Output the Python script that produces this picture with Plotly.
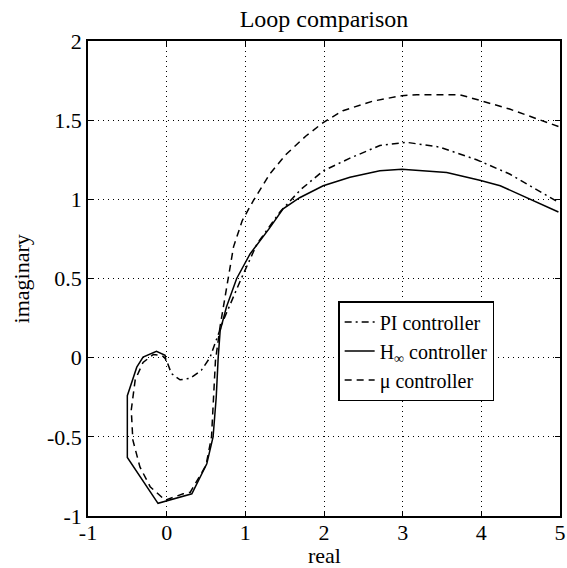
import plotly.graph_objects as go

# PI controller (dash-dot)
pi_re = [4.95, 4.36, 3.94, 3.47, 3.05, 2.71, 2.33, 1.99, 1.70, 1.44, 1.15, 0.94, 0.72, 0.63, 0.55, 0.44, 0.30, 0.17, 0.06, 0.0]
pi_im = [0.99, 1.16, 1.25, 1.33, 1.36, 1.34, 1.26, 1.18, 1.06, 0.92, 0.72, 0.49, 0.235, 0.11, 0.0, -0.08, -0.13, -0.14, -0.10, -0.02]

# H-infinity controller (solid)
hinf_re = [4.98, 4.57, 4.24, 3.98, 3.56, 2.99, 2.71, 2.33, 1.99, 1.69, 1.48, 1.31, 1.06, 0.89, 0.76, 0.68, 0.655, 0.63, 0.59, 0.51, 0.32, -0.11, -0.32, -0.50, -0.50, -0.38, -0.30, -0.13, -0.02, -0.01]
hinf_im = [0.92, 1.01, 1.086, 1.12, 1.17, 1.19, 1.18, 1.14, 1.086, 1.01, 0.94, 0.82, 0.655, 0.50, 0.32, 0.17, 0.0, -0.25, -0.50, -0.67, -0.86, -0.92, -0.76, -0.63, -0.24, -0.06, 0.004, 0.04, 0.015, -0.02]

# mu controller (dashed)
mu_re = [4.98, 4.70, 4.36, 3.98, 3.73, 3.18, 2.99, 2.62, 2.24, 1.99, 1.77, 1.52, 1.31, 1.10, 0.96, 0.85, 0.76, 0.68, 0.62, 0.60, 0.57, 0.50, 0.30, 0.21, -0.02, -0.21, -0.34, -0.43, -0.45, -0.40, -0.30, -0.17, -0.06, -0.01]
mu_im = [1.46, 1.51, 1.57, 1.625, 1.66, 1.66, 1.655, 1.62, 1.56, 1.485, 1.40, 1.285, 1.16, 0.99, 0.865, 0.70, 0.42, 0.20, -0.02, -0.25, -0.50, -0.68, -0.85, -0.86, -0.90, -0.815, -0.69, -0.52, -0.33, -0.14, -0.03, 0.02, 0.015, -0.01]

x_ticks = [-1, 0, 1, 2, 3, 4, 5]
x_labels = ["-1", "0", "1", "2", "3", "4", "5"]
y_ticks = [-1, -0.5, 0, 0.5, 1, 1.5, 2]
y_labels = ["-1", "-0.5", "0", "0.5", "1", "1.5", "2"]

FONT = "Liberation Serif, Times New Roman, serif"
FS = 22

fig = go.Figure()
fig.add_trace(go.Scatter(x=pi_re, y=pi_im, mode="lines", name="PI controller",
                         line=dict(color="black", width=1.5, dash="7px,4px,2px,4px")))
fig.add_trace(go.Scatter(x=hinf_re, y=hinf_im, mode="lines", name="H<sub>∞</sub> controller",
                         line=dict(color="black", width=1.5)))
fig.add_trace(go.Scatter(x=mu_re, y=mu_im, mode="lines", name="μ controller",
                         line=dict(color="black", width=1.5, dash="7px,5px")))

axis_common = dict(showline=True, linecolor="black", linewidth=1.5, mirror="ticks",
                   ticks="inside", ticklen=5, tickcolor="black", automargin=False,
                   ticklabeloverflow="allow",
                   showgrid=True, gridcolor="black", gridwidth=1, griddash="1px,4px",
                   zeroline=False, tickfont=dict(family=FONT, size=FS, color="black"))

fig.update_xaxes(range=[-1, 5], tickvals=x_ticks, ticktext=x_labels,
                 ticklabelstandoff=-4, **axis_common)
fig.update_yaxes(range=[-1, 2], tickvals=y_ticks, ticktext=y_labels, **axis_common)

fig.update_layout(
    width=567, height=568,
    margin=dict(l=88, r=7, t=41, b=52, autoexpand=False),
    paper_bgcolor="white", plot_bgcolor="white",
    title=dict(text="Loop comparison", x=0.5, xref="paper", y=0.967, yref="container",
               xanchor="center", yanchor="middle",
               font=dict(family=FONT, size=24, color="black")),
    showlegend=True,
    legend=dict(x=0.53, y=0.4526, xanchor="left", yanchor="top",
                bgcolor="white", bordercolor="black", borderwidth=1.5,
                font=dict(family=FONT, size=20, color="black"),
                itemwidth=30, tracegroupgap=0),
    annotations=[
        dict(text="real", xref="paper", yref="paper", x=0.5, y=-0.083,
             xanchor="center", yanchor="middle", showarrow=False,
             font=dict(family=FONT, size=FS, color="black")),
        dict(text="imaginary", xref="paper", yref="paper", x=-0.14, y=0.5,
             xanchor="center", yanchor="middle", showarrow=False, textangle=-90,
             font=dict(family=FONT, size=FS, color="black")),
    ],
)

# remove the browser's default 8px body margin so the figure fills the window exactly
fig.write_html("out.html", config={"displayModeBar": False},
               post_script="document.body.style.margin='0';")
